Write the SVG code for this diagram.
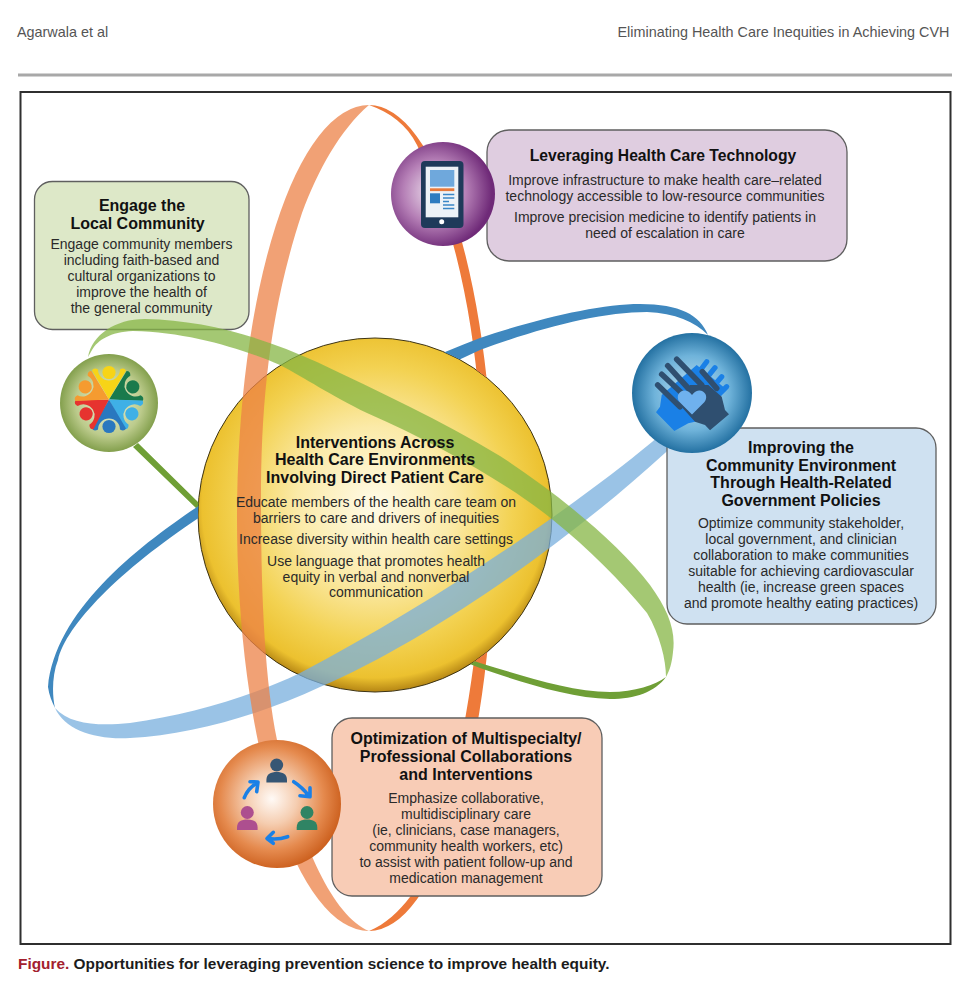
<svg xmlns="http://www.w3.org/2000/svg" width="974" height="988" viewBox="0 0 974 988">
<style>
text{font-family:"Liberation Sans",Arial,sans-serif;text-anchor:middle;fill:#1c1c1c}
.t{font-weight:700;font-size:16px;fill:#111}
.b{font-size:14px;fill:#2a2a2a}
.box{stroke:#5f5f5f;stroke-width:1.3}
.head{fill:#555;font-size:14.400px}
.ar{fill:none;stroke:#1a80e6;stroke-width:3.600;stroke-linecap:round;stroke-linejoin:round}
.df{fill:none;stroke:#2f4f70;stroke-width:5.600;stroke-linecap:round}
.lf{fill:none;stroke:#1a80e6;stroke-width:5.200;stroke-linecap:round}
</style>
<defs>
<radialGradient id="gSun" gradientUnits="userSpaceOnUse" cx="375" cy="505" r="186">
<stop offset="0" stop-color="#fffbe8"/><stop offset=".42" stop-color="#fbeaa8"/><stop offset=".74" stop-color="#f3d252"/><stop offset=".93" stop-color="#ecc12f"/><stop offset="1" stop-color="#b98a16"/>
</radialGradient>
<radialGradient id="gPurple" cx=".42" cy=".48" r=".55">
<stop offset="0" stop-color="#f0e6f0"/><stop offset=".55" stop-color="#b57fb6"/><stop offset="1" stop-color="#6f2a78"/>
</radialGradient>
<radialGradient id="gBlue" cx=".5" cy=".5" r=".52">
<stop offset="0" stop-color="#c4e2f3"/><stop offset=".6" stop-color="#6fb3da"/><stop offset="1" stop-color="#1c6a9c"/>
</radialGradient>
<radialGradient id="gGreen" cx=".5" cy=".5" r=".52">
<stop offset="0" stop-color="#eef2d8"/><stop offset=".65" stop-color="#bccb8c"/><stop offset="1" stop-color="#7c9a45"/>
</radialGradient>
<radialGradient id="gOrange" cx=".46" cy=".46" r=".56">
<stop offset="0" stop-color="#fffaf6"/><stop offset=".35" stop-color="#f5cdb0"/><stop offset=".72" stop-color="#e58a4e"/><stop offset="1" stop-color="#cb5e1c"/>
</radialGradient>
<clipPath id="outside"><path clip-rule="evenodd" d="M0 0H974V988H0Z M198,515a177,177 0 1 0 354,0a177,177 0 1 0 -354,0Z"/></clipPath>
<g id="person"><path d="M0,0L-17,-29Q-15,-32.500 -11,-30A11,11 0 0 0 11,-30Q15,-32.500 17,-29Z"/><circle cx="0" cy="-27" r="6.600"/></g>
<path id="member" d="M-10.300,13C-10.300,7 -6,5 0,5C6,5 10.300,7 10.300,13L10.300,15.500H-10.300Z"/>
</defs>

<rect width="974" height="988" fill="#fff"/>
<g id="page">
<text class="head" x="62.500" y="37">Agarwala et al</text>
<text class="head" x="783.500" y="37">Eliminating Health Care Inequities in Achieving CVH</text>
<line x1="18" y1="75" x2="952" y2="75" stroke="#a8a8a8" stroke-width="3.200"/>
<rect x="20.500" y="92" width="930" height="852" fill="#fff" stroke="#2f2f2f" stroke-width="2"/>
</g>

<g id="node-community-box">
<rect class="box" x="34.500" y="181.500" width="214.500" height="148" rx="18" fill="#dde8c8"/>
<text class="t" x="142" y="211">Engage the</text>
<text class="t" x="137.500" y="228.500">Local Community</text>
<text class="b" x="141.500" y="249">Engage community members</text>
<text class="b" x="141.500" y="265">including faith-based and</text>
<text class="b" x="141.500" y="281">cultural organizations to</text>
<text class="b" x="141.500" y="296.500">improve the health of</text>
<text class="b" x="141.500" y="312.500">the general community</text>
</g>

<g id="node-center-sphere">
<circle cx="375" cy="515" r="177" fill="url(#gSun)" stroke="#3d3313" stroke-width="1"/>
</g>

<g id="connectors">
<g clip-path="url(#outside)">
<path id="orange-back" fill="#ee7a3a" d="M369,105A125,413 0 0 1 369,931C385,925 400,910 410,897C452,830 484,650 484,518C484,400 472,260 417,145C407,125 390,112 369,105Z"/>
<path id="green-back" fill="#6f9f36" d="M666,677C655,692 635,699 610,699C570,698 520,682 480,668C380,630 260,560 197,509L133,447L138,443L198,502C280,570 390,630 480,663C520,675 570,692 610,692C635,692 655,685 666,677Z"/>
<path id="blue-back" fill="#3f88bf" d="M708,335C700,315 680,304 640,304C600,304 540,318 480,338C380,375 280,440 200,505C140,545 55,610 48,687C49,695 52,702 55,708C52,695 52,675 58,660C66,625 120,570 200,517C280,455 380,395 480,350C540,328 600,312 647,312C675,313 695,322 708,335Z"/>
</g>
<path id="blue-front" fill="#78afdd" fill-opacity=".75" d="M55,708C65,730 95,740 130,738C190,735 260,715 320,687C430,640 570,540 665,453L690,430L675,421L652,442C570,510 430,605 300,673C250,697 190,715 130,723C100,726 70,725 55,708Z"/>
<path id="orange-front" fill="#ec8147" fill-opacity=".75" d="M369,105A132,413 0 0 0 369,931C330,915 295,830 277,740C265,680 261,600 261,500C261,400 270,310 302,213C318,170 340,130 369,105Z"/>
<path id="green-front" fill="#85b544" fill-opacity=".75" d="M88,357C92,335 115,319 145,319C205,320 265,338 317,362C380,392 440,420 500,456C560,495 620,545 650,585C668,610 676,630 673,652C672,662 670,670 666,677C666,660 660,635 647,613C620,580 590,550 553,520C510,485 440,445 367,413C330,395 305,378 280,365C245,350 190,332 133,331C110,332 98,340 92,350Z"/>
</g>

<g id="node-center-text">
<text class="t" x="375" y="448">Interventions Across</text>
<text class="t" x="375" y="465">Health Care Environments</text>
<text class="t" x="375" y="482.500">Involving Direct Patient Care</text>
<text class="b" x="376" y="507">Educate members of the health care team on</text>
<text class="b" x="376" y="523">barriers to care and drivers of inequities</text>
<text class="b" x="376" y="544">Increase diversity within health care settings</text>
<text class="b" x="376" y="566">Use language that promotes health</text>
<text class="b" x="376" y="582">equity in verbal and nonverbal</text>
<text class="b" x="376" y="597">communication</text>
</g>

<g id="node-community-icon">
<circle cx="109" cy="403" r="49" fill="url(#gGreen)"/>
<g transform="translate(109 399.500)">
<use href="#person" fill="#f7d417"/>
<use href="#person" fill="#1a7a4c" transform="rotate(62)"/>
<use href="#person" fill="#3fb0e6" transform="rotate(122)"/>
<use href="#person" fill="#2a78bf" transform="rotate(180)"/>
<use href="#person" fill="#e6332f" transform="rotate(238)"/>
<use href="#person" fill="#f59b30" transform="rotate(298)"/>
</g>
</g>

<g id="node-technology">
<rect class="box" x="487" y="130" width="360" height="131" rx="22" fill="#dfcde0"/>
<circle cx="443" cy="194" r="52" fill="url(#gPurple)"/>
<rect x="421" y="161" width="42.500" height="67" rx="4" fill="#1f3a5a"/>
<rect x="425.700" y="166.700" width="32.600" height="50.600" fill="#edf2f7"/>
<rect x="430" y="170" width="24.300" height="16.700" fill="#6fa8dc"/>
<rect x="430" y="188.300" width="24.300" height="2.800" fill="#e8793a"/>
<rect x="430" y="193.300" width="10" height="10" fill="#2e7cc0"/>
<path d="M443,194.500H454.300M443,198H454.300M443,201.500H449M443,205H454.300M443,208.500H454.300" stroke="#3a86c6" stroke-width="1.500" fill="none"/>
<circle cx="441.700" cy="221.800" r="2.500" fill="#fff"/>
<text class="t" x="663" y="161" style="font-size:15.700px">Leveraging Health Care Technology</text>
<text class="b" x="665" y="184.500">Improve infrastructure to make health care–related</text>
<text class="b" x="665" y="200.500">technology accessible to low-resource communities</text>
<text class="b" x="665" y="221.500">Improve precision medicine to identify patients in</text>
<text class="b" x="665" y="237.500">need of escalation in care</text>
</g>

<g id="node-environment">
<rect class="box" x="667" y="428" width="269" height="196" rx="20" fill="#cfe1f1"/>
<circle cx="692" cy="393" r="60" fill="url(#gBlue)"/>
<path fill="#1a80e6" d="M661.700,395L696.700,365L725,388.300L695,421.700L688.300,423.300L674.300,431L656,412.300L660,406.700Z"/>
<path class="lf" d="M706.700,361.700L696.700,375M715,367.700L705,380M721.700,376.700L711.700,388.300M726.700,386.700L716.700,396.700"/>
<path fill="#2f4f70" d="M678.300,403.300L690,385H708.300L721.700,396.700L725,410L729,414.300L710,430.300L705,425L695,421.700Z"/>
<path class="df" d="M676.700,359.300L701.700,385M667.700,365.700L688,388M661.700,374.300L681.700,393M657.700,385L680,406.700M702.300,371.700L716.700,388.300"/>
<path fill="#6fb1ee" d="M692,414.500L679.500,402C675,396 680,390 685,390.500C688,390.700 690.500,393 692,395C693.500,393 696,390.700 699,390.500C704,390 709,396 704.500,402Z"/>
<text class="t" x="801" y="453">Improving the</text>
<text class="t" x="801" y="470.500">Community Environment</text>
<text class="t" x="801" y="488">Through Health-Related</text>
<text class="t" x="801" y="505.500">Government Policies</text>
<text class="b" x="801" y="528">Optimize community stakeholder,</text>
<text class="b" x="801" y="544">local government, and clinician</text>
<text class="b" x="801" y="560">collaboration to make communities</text>
<text class="b" x="801" y="576">suitable for achieving cardiovascular</text>
<text class="b" x="801" y="592">health (ie, increase green spaces</text>
<text class="b" x="801" y="608">and promote healthy eating practices)</text>
</g>

<g id="node-collaboration">
<rect class="box" x="332" y="718" width="270" height="178" rx="20" fill="#f8ccb6"/>
<circle cx="277" cy="804" r="64" fill="url(#gOrange)"/>
<g fill="#365674" transform="translate(276.700 767)"><circle cx="0" cy="-2" r="6.500"/><use href="#member"/></g>
<g fill="#ad4f8f" transform="translate(247.300 814.500)"><circle cx="0" cy="-2" r="6.500"/><use href="#member"/></g>
<g fill="#2f8464" transform="translate(307 814.500)"><circle cx="0" cy="-2" r="6.500"/><use href="#member"/></g>
<path class="ar" d="M244.300,797.700Q248,788 257,783M250,781.700L258,782L256.700,791.700"/>
<path class="ar" d="M293.700,781.700Q302,787 309,796M300,795.700L310,796.700L310,787.700"/>
<path class="ar" d="M287.700,836.700Q278,840 268,838.500M273.300,832.300L267,838.500L273.300,843.300"/>
<text class="t" x="466" y="744">Optimization of Multispecialty/</text>
<text class="t" x="466" y="762">Professional Collaborations</text>
<text class="t" x="466" y="779.500">and Interventions</text>
<text class="b" x="466" y="803">Emphasize collaborative,</text>
<text class="b" x="466" y="819">multidisciplinary care</text>
<text class="b" x="466" y="835">(ie, clinicians, case managers,</text>
<text class="b" x="466" y="851">community health workers, etc)</text>
<text class="b" x="466" y="867">to assist with patient follow-up and</text>
<text class="b" x="466" y="882.500">medication management</text>
</g>

<g id="caption">
<text x="18" y="968.500" style="text-anchor:start;font-weight:700;font-size:15.400px"><tspan fill="#a3202e">Figure.</tspan><tspan fill="#1c1c1c"> Opportunities for leveraging prevention science to improve health equity.</tspan></text>
</g>
</svg>
